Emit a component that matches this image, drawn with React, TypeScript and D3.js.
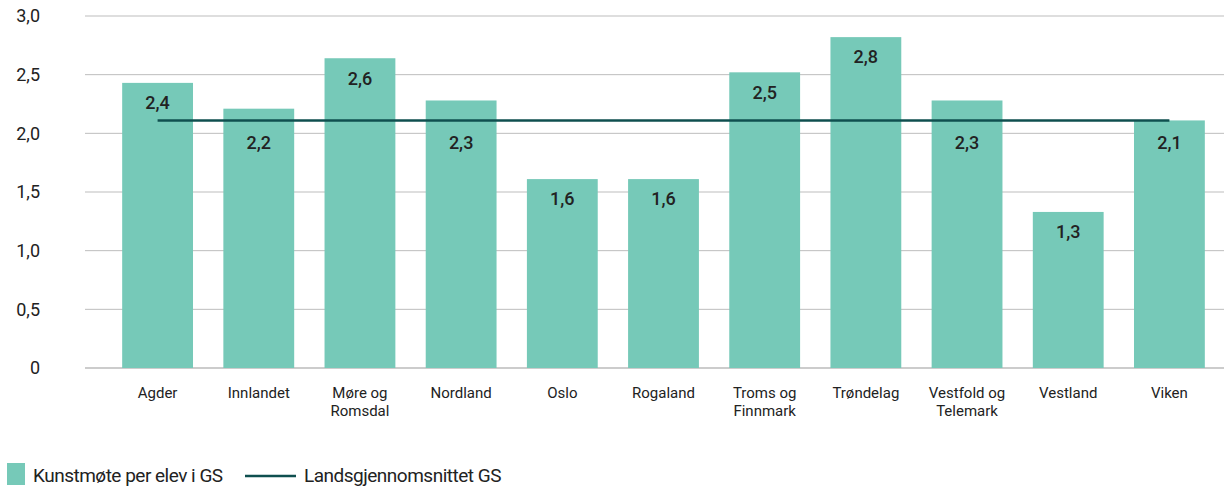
import React from 'react';
import * as d3 from 'd3';

const regions = ['Agder', 'Innlandet', 'Møre og Romsdal', 'Nordland', 'Oslo', 'Rogaland', 'Troms og Finnmark', 'Trøndelag', 'Vestfold og Telemark', 'Vestland', 'Viken'];
const regionLines = [['Agder'], ['Innlandet'], ['Møre og', 'Romsdal'], ['Nordland'], ['Oslo'], ['Rogaland'], ['Troms og', 'Finnmark'], ['Trøndelag'], ['Vestfold og', 'Telemark'], ['Vestland'], ['Viken']];
const kunstmote = [2.43, 2.21, 2.64, 2.28, 1.61, 1.61, 2.52, 2.82, 2.28, 1.33, 2.11];
const landssnitt = 2.11;
const yTicks = [0, 0.5, 1, 1.5, 2, 2.5, 3];

const width = 1224;
const height = 488;
const font = 'Roboto, "Noto Sans", sans-serif';
const barColor = '#76c9b8';
const lineColor = '#0f4f4f';
const fmt = (v: number) => (v === 0 ? '0' : v.toFixed(1).replace('.', ','));

export default function App() {
  const x = d3.scaleBand().domain(regions).range([107, 1220]).paddingInner(0.3).paddingOuter(0.15);
  const y = d3.scaleLinear().domain([0, 3]).range([368, 16]);

  const avgLine = d3.line<number>()
    .x((d) => d)
    .y(() => y(landssnitt));
  const first = x(regions[0])! + x.bandwidth() / 2;
  const last = x(regions[regions.length - 1])! + x.bandwidth() / 2;

  // value label sits under the bar top, pushed below the average line when they collide
  const labelY = (v: number) => {
    const base = y(v) + 20;
    const ly = y(landssnitt);
    if (Math.abs(base - ly) < 12 || Math.abs(v - landssnitt) < 0.01) return ly + 22;
    return base;
  };

  return (
    <svg width={width} height={height} style={{ position: 'absolute', left: 0, top: 0 }} fontFamily={font}>
      {yTicks.map((t) => (
        <g key={t}>
          <line x1={85} x2={1224} y1={y(t)} y2={y(t)} stroke={t === 0 ? '#999' : '#bdbdbd'} strokeWidth={1} />
          <text x={40} y={y(t)} dy="0.35em" textAnchor="end" fontSize={18} fill="#222">{fmt(t)}</text>
        </g>
      ))}
      {regions.map((r, i) => (
        <g key={r}>
          <rect x={x(r)} y={y(kunstmote[i])} width={x.bandwidth()} height={y(0) - y(kunstmote[i])} fill={barColor} />
          <text x={x(r)! + x.bandwidth() / 2} y={labelY(kunstmote[i])} dy="0.35em" textAnchor="middle" fontSize={18} fontWeight={500} fill="#222">
            {fmt(Math.round(kunstmote[i] * 10) / 10)}
          </text>
          <text textAnchor="middle" fontSize={15} fill="#222">
            {regionLines[i].map((l, j) => (
              <tspan key={j} x={x(r)! + x.bandwidth() / 2} y={398 + j * 18}>{l}</tspan>
            ))}
          </text>
        </g>
      ))}
      <path d={avgLine([first, last]) ?? ''} stroke={lineColor} strokeWidth={2.5} fill="none" />
      <rect x={7} y={463} width={18} height={22} fill={barColor} />
      <text x={33} y={482} fontSize={19} letterSpacing={-0.5} fill="#222">Kunstmøte per elev i GS</text>
      <line x1={245} x2={296} y1={476} y2={476} stroke={lineColor} strokeWidth={2.5} />
      <text x={304} y={482} fontSize={19} letterSpacing={-0.5} fill="#222">Landsgjennomsnittet GS</text>
    </svg>
  );
}
